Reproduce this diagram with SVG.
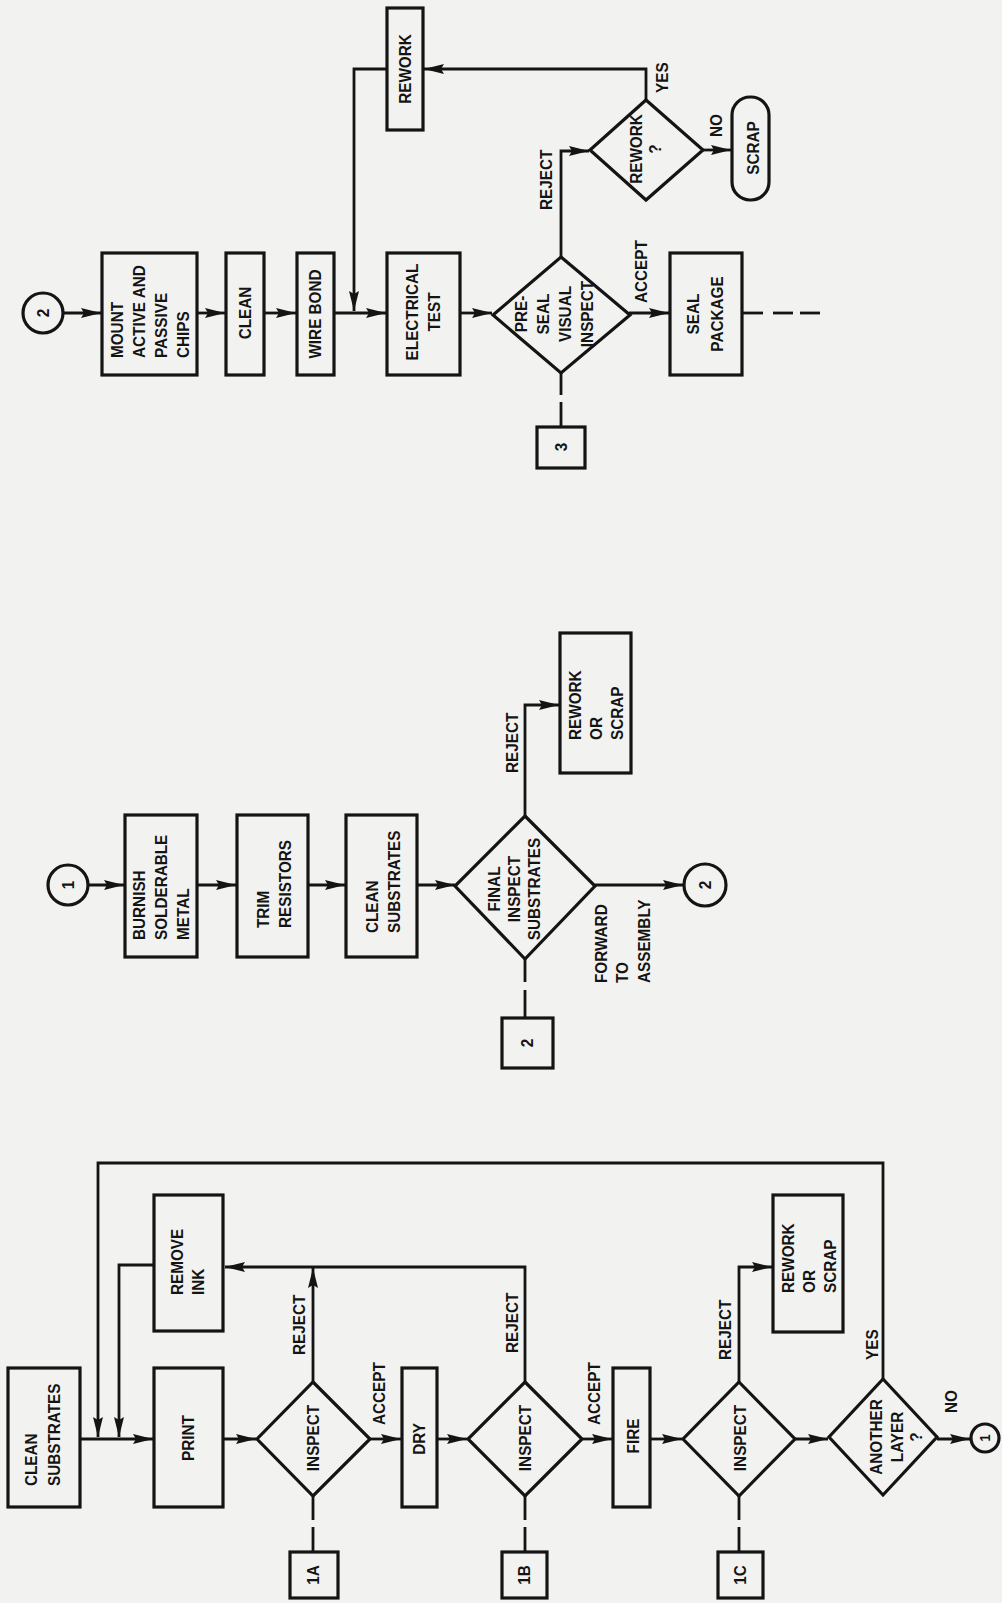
<svg xmlns="http://www.w3.org/2000/svg" width="1002" height="1603" viewBox="0 0 1002 1603">
<defs>
<marker id="ah" viewBox="0 0 20 11" refX="20" refY="5.5" markerWidth="20" markerHeight="11" markerUnits="userSpaceOnUse" orient="auto"><path d="M0,0.5 L20,5.5 L0,10.5 L3,5.5 z" fill="#141414"/></marker>
<style>
.box{fill:none;stroke:#141414;stroke-width:3.2}
.ln{fill:none;stroke:#141414;stroke-width:2.8}
.ar{fill:none;stroke:#141414;stroke-width:2.8;marker-end:url(#ah)}
.t{font-family:"Liberation Sans",Arial,sans-serif;font-weight:bold;font-size:17px;fill:#141414}
.m{text-anchor:middle}
</style>
</defs>
<rect x="0" y="0" width="1002" height="1603" fill="#f2f2f0"/>

<g id="connectors">
<!-- top section -->
<line class="ar" x1="63" y1="313" x2="101" y2="313"/>
<line class="ar" x1="197" y1="313" x2="225" y2="313"/>
<line class="ar" x1="264" y1="313" x2="296" y2="313"/>
<line class="ar" x1="334" y1="313" x2="386" y2="313"/>
<polyline class="ar" points="387,69 354,69 354,311"/>
<line class="ar" x1="460" y1="313" x2="492" y2="313"/>
<polyline class="ar" points="561,257 561,151 589,151"/>
<polyline class="ar" points="646,100 646,69 424,69"/>
<line class="ar" x1="703" y1="150" x2="731" y2="150"/>
<line class="ar" x1="629" y1="313" x2="669" y2="313"/>
<line class="ln" x1="742" y1="313" x2="763" y2="313"/>
<line class="ln" x1="773" y1="313" x2="793" y2="313"/>
<line class="ln" x1="800" y1="313" x2="820" y2="313"/>
<line class="ln" x1="561" y1="373" x2="561" y2="395"/>
<line class="ln" x1="561" y1="402" x2="561" y2="427"/>
<!-- middle section -->
<line class="ar" x1="88" y1="885" x2="124" y2="885"/>
<line class="ar" x1="197" y1="885" x2="236" y2="885"/>
<line class="ar" x1="308" y1="885" x2="345" y2="885"/>
<line class="ar" x1="417" y1="885" x2="455" y2="885"/>
<polyline class="ar" points="525,817 525,705 559,705"/>
<line class="ar" x1="595" y1="885" x2="683" y2="885"/>
<line class="ln" x1="525" y1="959" x2="525" y2="982"/>
<line class="ln" x1="525" y1="990" x2="525" y2="1018"/>
<!-- bottom section -->
<line class="ar" x1="80" y1="1439" x2="153" y2="1439"/>
<polyline class="ar" points="883,1379 883,1163 98,1163 98,1437"/>
<polyline class="ar" points="154,1265 119,1265 119,1437"/>
<line class="ar" x1="223" y1="1439" x2="256" y2="1439"/>
<line class="ar" x1="370" y1="1439" x2="401" y2="1439"/>
<line class="ar" x1="437" y1="1439" x2="467" y2="1439"/>
<line class="ar" x1="582" y1="1439" x2="612" y2="1439"/>
<line class="ar" x1="650" y1="1439" x2="682" y2="1439"/>
<line class="ar" x1="795" y1="1439" x2="828" y2="1439"/>
<line class="ar" x1="937" y1="1439" x2="970" y2="1439"/>
<line class="ar" x1="313" y1="1382" x2="313" y2="1268"/>
<polyline class="ar" points="525,1382 525,1267 225,1267"/>
<polyline class="ar" points="739,1382 739,1267 772,1267"/>
<line class="ln" x1="313" y1="1496" x2="313" y2="1520"/>
<line class="ln" x1="313" y1="1527" x2="313" y2="1552"/>
<line class="ln" x1="525" y1="1496" x2="525" y2="1520"/>
<line class="ln" x1="525" y1="1527" x2="525" y2="1552"/>
<line class="ln" x1="739" y1="1496" x2="739" y2="1520"/>
<line class="ln" x1="739" y1="1527" x2="739" y2="1552"/>
</g>

<g id="edge-labels">
<text class="t" transform="translate(552,210) rotate(-90) scale(0.9,1)">REJECT</text>
<text class="t" transform="translate(668,93) rotate(-90) scale(0.9,1)">YES</text>
<text class="t" transform="translate(722,137) rotate(-90) scale(0.9,1)">NO</text>
<text class="t" transform="translate(647,303) rotate(-90) scale(0.9,1)">ACCEPT</text>
<text class="t" transform="translate(518,773) rotate(-90) scale(0.9,1)">REJECT</text>
<text class="t" transform="translate(607,983) rotate(-90) scale(0.9,1)"><tspan x="0" y="0">FORWARD</tspan><tspan x="0" y="21.5">TO</tspan><tspan x="0" y="43">ASSEMBLY</tspan></text>
<text class="t" transform="translate(305,1355) rotate(-90) scale(0.9,1)">REJECT</text>
<text class="t" transform="translate(385,1425) rotate(-90) scale(0.9,1)">ACCEPT</text>
<text class="t" transform="translate(518,1353) rotate(-90) scale(0.9,1)">REJECT</text>
<text class="t" transform="translate(600,1425) rotate(-90) scale(0.9,1)">ACCEPT</text>
<text class="t" transform="translate(731,1360) rotate(-90) scale(0.9,1)">REJECT</text>
<text class="t" transform="translate(878,1360) rotate(-90) scale(0.9,1)">YES</text>
<text class="t" transform="translate(957,1413) rotate(-90) scale(0.9,1)">NO</text>
</g>

<!-- top section nodes -->
<g id="conn2-top"><circle class="box" cx="43" cy="313" r="20"/><text class="t m" transform="translate(49,313) rotate(-90) scale(0.9,1)">2</text></g>
<g id="mount"><rect class="box" x="102" y="253" width="95" height="122"/><text class="t" transform="translate(123,358) rotate(-90) scale(0.9,1)"><tspan x="0" y="0">MOUNT</tspan><tspan x="0" y="22">ACTIVE AND</tspan><tspan x="0" y="44">PASSIVE</tspan><tspan x="0" y="66">CHIPS</tspan></text></g>
<g id="clean-top"><rect class="box" x="226" y="253" width="38" height="122"/><text class="t m" transform="translate(251,313) rotate(-90) scale(0.9,1)">CLEAN</text></g>
<g id="wire-bond"><rect class="box" x="297" y="253" width="37" height="122"/><text class="t m" transform="translate(321,314) rotate(-90) scale(0.9,1)">WIRE BOND</text></g>
<g id="electrical-test"><rect class="box" x="387" y="253" width="73" height="122"/><text class="t m" transform="translate(418,312) rotate(-90) scale(0.9,1)"><tspan x="0" y="0">ELECTRICAL</tspan><tspan x="0" y="22">TEST</tspan></text></g>
<g id="rework-top"><rect class="box" x="387" y="8" width="36" height="122"/><text class="t m" transform="translate(411,69) rotate(-90) scale(0.9,1)">REWORK</text></g>
<g id="preseal"><polygon class="box" points="561,257 630,315 561,373 493,315"/><text class="t m" transform="translate(527,314) rotate(-90) scale(0.9,1)"><tspan x="0" y="0">PRE-</tspan><tspan x="0" y="22">SEAL</tspan><tspan x="0" y="44">VISUAL</tspan><tspan x="0" y="66">INSPECT</tspan></text></g>
<g id="rework-q"><polygon class="box" points="646,100 703,150 646,200 590,150"/><text class="t m" transform="translate(642,149) rotate(-90) scale(0.9,1)"><tspan x="0" y="0">REWORK</tspan><tspan x="0" y="19">?</tspan></text></g>
<g id="scrap-top"><rect class="box" x="732" y="97" width="37" height="103" rx="18" ry="18"/><text class="t m" transform="translate(759,148) rotate(-90) scale(0.9,1)">SCRAP</text></g>
<g id="seal-package"><rect class="box" x="670" y="253" width="72" height="122"/><text class="t m" transform="translate(699,314) rotate(-90) scale(0.9,1)"><tspan x="0" y="0">SEAL</tspan><tspan x="0" y="24">PACKAGE</tspan></text></g>
<g id="ref3"><rect class="box" x="537" y="427" width="48" height="41"/><text class="t m" transform="translate(567,447) rotate(-90) scale(0.9,1)">3</text></g>

<!-- middle section nodes -->
<g id="conn1-mid"><circle class="box" cx="68" cy="885" r="20"/><text class="t m" transform="translate(74,885) rotate(-90) scale(0.9,1)">1</text></g>
<g id="burnish"><rect class="box" x="125" y="815" width="72" height="142"/><text class="t" transform="translate(145,940) rotate(-90) scale(0.9,1)"><tspan x="0" y="0">BURNISH</tspan><tspan x="0" y="22">SOLDERABLE</tspan><tspan x="0" y="44">METAL</tspan></text></g>
<g id="trim"><rect class="box" x="237" y="815" width="71" height="142"/><text class="t" transform="translate(269,928) rotate(-90) scale(0.9,1)"><tspan x="0" y="0">TRIM</tspan><tspan x="0" y="22">RESISTORS</tspan></text></g>
<g id="clean-mid"><rect class="box" x="346" y="815" width="71" height="142"/><text class="t" transform="translate(378,933) rotate(-90) scale(0.9,1)"><tspan x="0" y="0">CLEAN</tspan><tspan x="0" y="22">SUBSTRATES</tspan></text></g>
<g id="final-inspect"><polygon class="box" points="525,816 595,886 525,959 455,886"/><text class="t m" transform="translate(500,889) rotate(-90) scale(0.9,1)"><tspan x="0" y="0">FINAL</tspan><tspan x="0" y="20">INSPECT</tspan><tspan x="0" y="40">SUBSTRATES</tspan></text></g>
<g id="rework-scrap-mid"><rect class="box" x="560" y="633" width="71" height="140"/><text class="t" transform="translate(581,740) rotate(-90) scale(0.9,1)"><tspan x="0" y="0">REWORK</tspan><tspan x="0" y="21">OR</tspan><tspan x="0" y="42">SCRAP</tspan></text></g>
<g id="conn2-mid"><circle class="box" cx="705" cy="885" r="21"/><text class="t m" transform="translate(711,885) rotate(-90) scale(0.9,1)">2</text></g>
<g id="ref2"><rect class="box" x="502" y="1018" width="51" height="50"/><text class="t m" transform="translate(533,1043) rotate(-90) scale(0.9,1)">2</text></g>

<!-- bottom section nodes -->
<g id="clean-bottom"><rect class="box" x="8" y="1368" width="72" height="139"/><text class="t" transform="translate(37,1486) rotate(-90) scale(0.9,1)"><tspan x="0" y="0">CLEAN</tspan><tspan x="0" y="23">SUBSTRATES</tspan></text></g>
<g id="print"><rect class="box" x="154" y="1368" width="69" height="139"/><text class="t m" transform="translate(194,1438) rotate(-90) scale(0.9,1)">PRINT</text></g>
<g id="remove-ink"><rect class="box" x="154" y="1195" width="69" height="136"/><text class="t" transform="translate(183,1295) rotate(-90) scale(0.9,1)"><tspan x="0" y="0">REMOVE</tspan><tspan x="0" y="21">INK</tspan></text></g>
<g id="inspect-a"><polygon class="box" points="313,1382 370,1439 313,1496 257,1439"/><text class="t m" transform="translate(319,1438) rotate(-90) scale(0.9,1)">INSPECT</text></g>
<g id="dry"><rect class="box" x="402" y="1368" width="35" height="139"/><text class="t m" transform="translate(425,1439) rotate(-90) scale(0.9,1)">DRY</text></g>
<g id="inspect-b"><polygon class="box" points="525,1382 582,1439 525,1496 468,1439"/><text class="t m" transform="translate(531,1438) rotate(-90) scale(0.9,1)">INSPECT</text></g>
<g id="fire"><rect class="box" x="613" y="1368" width="37" height="139"/><text class="t m" transform="translate(639,1436) rotate(-90) scale(0.9,1)">FIRE</text></g>
<g id="inspect-c"><polygon class="box" points="739,1382 795,1439 739,1496 683,1439"/><text class="t m" transform="translate(746,1438) rotate(-90) scale(0.9,1)">INSPECT</text></g>
<g id="rework-scrap-bottom"><rect class="box" x="773" y="1195" width="70" height="137"/><text class="t" transform="translate(794,1293) rotate(-90) scale(0.9,1)"><tspan x="0" y="0">REWORK</tspan><tspan x="0" y="21">OR</tspan><tspan x="0" y="42">SCRAP</tspan></text></g>
<g id="another-layer"><polygon class="box" points="883,1379 937,1437 883,1495 829,1437"/><text class="t m" transform="translate(882,1437) rotate(-90) scale(0.9,1)"><tspan x="0" y="0">ANOTHER</tspan><tspan x="0" y="21">LAYER</tspan><tspan x="0" y="40">?</tspan></text></g>
<g id="conn1-bottom"><circle class="box" cx="985" cy="1438" r="14"/><text class="t m" style="font-size:14px" transform="translate(990,1438) rotate(-90) scale(0.9,1)">1</text></g>
<g id="ref1a"><rect class="box" x="290" y="1552" width="48" height="46"/><text class="t m" transform="translate(319,1575) rotate(-90) scale(0.9,1)">1A</text></g>
<g id="ref1b"><rect class="box" x="502" y="1552" width="45" height="46"/><text class="t m" transform="translate(530,1575) rotate(-90) scale(0.9,1)">1B</text></g>
<g id="ref1c"><rect class="box" x="718" y="1552" width="45" height="46"/><text class="t m" transform="translate(746,1575) rotate(-90) scale(0.9,1)">1C</text></g>
</svg>
